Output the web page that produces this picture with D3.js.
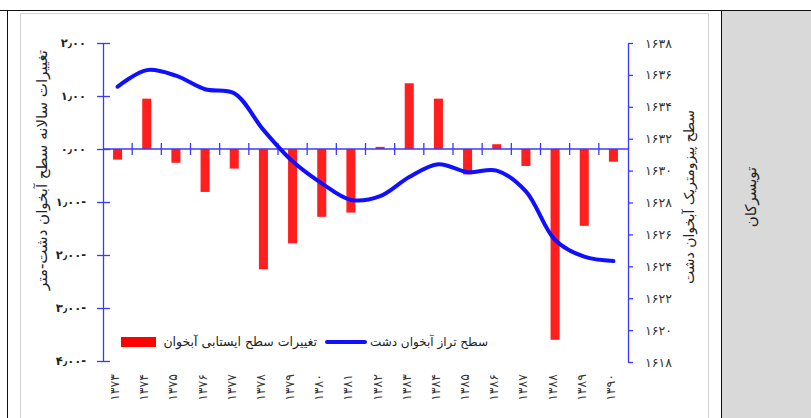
<!DOCTYPE html>
<html>
<head>
<meta charset="utf-8">
<script src="https://cdn.jsdelivr.net/npm/d3@7"></script>
<style>
  body { margin: 0; background: #fff; }
  svg { display: block; font-family: "DejaVu Sans", sans-serif; }
</style>
</head>
<body>
<svg id="chart" width="811" height="418"></svg>
<script>
// data
const years = ['۱۳۷۳', '۱۳۷۴', '۱۳۷۵', '۱۳۷۶', '۱۳۷۷', '۱۳۷۸', '۱۳۷۹', '۱۳۸۰', '۱۳۸۱',
  '۱۳۸۲', '۱۳۸۳', '۱۳۸۴', '۱۳۸۵', '۱۳۸۶', '۱۳۸۷', '۱۳۸۸', '۱۳۸۹', '۱۳۹۰'];
const annualChange = [-0.2, 0.95, -0.26, -0.81, -0.37, -2.27, -1.78, -1.28, -1.2,
  0.04, 1.24, 0.95, -0.48, 0.09, -0.32, -3.6, -1.45, -0.24];
const waterLevel = [1635.26, 1636.3, 1635.95, 1635.1, 1634.85, 1632.55, 1630.58, 1629.2, 1628.16,
  1628.4, 1629.6, 1630.4, 1629.9, 1630.0, 1628.7, 1625.65, 1624.6, 1624.33];
const leftTicks = [2, 1, 0, -1, -2, -3, -4];
const rightTicks = [1638, 1636, 1634, 1632, 1630, 1628, 1626, 1624, 1622, 1620, 1618];

const barName = 'تغییرات سطح ایستابی آبخوان';
const lineName = 'سطح تراز آبخوان دشت';
const leftTitle = 'تغییرات سالانه سطح آبخوان دشت-متر';
const rightTitle = 'سطح پیزومتریک آبخوان دشت';
const regionName = 'تویسرکان';

const fa = s => String(s).replace(/\d/g, d => '۰۱۲۳۴۵۶۷۸۹'[d]).replace('.', '٫');

const svg = d3.select('#chart');
const axisColor = '#3a3aff';

// frame
svg.append('rect').attr('x', 20.5).attr('y', 13.5).attr('width', 688).attr('height', 420)
  .attr('fill', 'none').attr('stroke', '#d4d4d4');
svg.append('rect').attr('x', 721.5).attr('y', 10.5).attr('width', 100).attr('height', 420)
  .attr('fill', '#d9d9d9').attr('stroke', '#111');
svg.append('line').attr('x1', 0).attr('x2', 811).attr('y1', 10.5).attr('y2', 10.5).attr('stroke', '#111');
svg.append('line').attr('x1', 7.5).attr('x2', 7.5).attr('y1', 10).attr('y2', 418).attr('stroke', '#111');

svg.append('text')
  .attr('transform', 'translate(751,197) rotate(-90)')
  .attr('text-anchor', 'middle').attr('dominant-baseline', 'middle')
  .attr('font-size', 15).attr('fill', '#222')
  .text(regionName);

// scales
const left = 103, right = 628;
const xB = d3.scaleBand().domain(years).range([left, right]);
const xBar = d3.scaleBand().domain(years).range([left, right]).paddingInner(0.69).paddingOuter(0.345);
const yL = d3.scaleLinear().domain([-4, 2]).range([361, 43]);
const yR = d3.scaleLinear().domain([1618, 1638]).range([362, 43]);

// bars
svg.append('g').selectAll('rect').data(annualChange).join('rect')
  .attr('x', (d, i) => xBar(years[i]))
  .attr('width', xBar.bandwidth())
  .attr('y', d => yL(Math.max(0, d)))
  .attr('height', d => Math.abs(yL(d) - yL(0)))
  .attr('fill', '#ff1f1f');

// zero line with boundary ticks
const zero = svg.append('g').attr('stroke', axisColor).attr('stroke-width', 1.3);
zero.append('line').attr('x1', left).attr('x2', right).attr('y1', yL(0)).attr('y2', yL(0));
zero.selectAll('.bt').data(years.slice(1)).join('line')
  .attr('x1', d => xB(d)).attr('x2', d => xB(d))
  .attr('y1', yL(0) - 6).attr('y2', yL(0) + 6);

// line
const line = d3.line()
  .x((d, i) => xB(years[i]) + xB.bandwidth() / 2)
  .y(d => yR(d))
  .curve(d3.curveCatmullRom.alpha(0.5));
svg.append('path').datum(waterLevel)
  .attr('d', line).attr('fill', 'none')
  .attr('stroke', '#1010ff').attr('stroke-width', 4).attr('stroke-linecap', 'round');

// left axis
const gL = svg.append('g').attr('transform', `translate(${left},0)`)
  .call(d3.axisLeft(yL).tickValues(leftTicks).tickSize(6).tickSizeOuter(0).tickPadding(11)
    .tickFormat(v => fa(Math.abs(v).toFixed(2)) + (v < 0 ? '-' : '')));
gL.select('.domain').attr('stroke', axisColor).attr('stroke-width', 1.3);
gL.selectAll('.tick line').attr('stroke', axisColor).attr('stroke-width', 1.3).attr('x1', 7).attr('x2', -6);
gL.selectAll('.tick text').attr('font-size', 11.5).attr('font-weight', 'bold').attr('fill', '#222')
  .attr('font-family', '"DejaVu Sans", sans-serif');

// right axis
const gR = svg.append('g').attr('transform', `translate(${right},0)`)
  .call(d3.axisRight(yR).tickValues(rightTicks).tickSize(5).tickSizeOuter(0).tickPadding(12)
    .tickFormat(v => fa(v)));
gR.select('.domain').attr('stroke', axisColor).attr('stroke-width', 1.3);
gR.selectAll('.tick line').attr('stroke', axisColor).attr('stroke-width', 1.3);
gR.selectAll('.tick text').attr('font-size', 12.5).attr('fill', '#333')
  .attr('font-family', '"DejaVu Sans", sans-serif');

// year labels
svg.append('g').selectAll('text').data(years).join('text')
  .attr('transform', d => `translate(${xB(d) + xB.bandwidth() / 2 - 2},374) rotate(-90)`)
  .attr('text-anchor', 'end').attr('dominant-baseline', 'middle')
  .attr('font-size', 12.5).attr('fill', '#333')
  .text(d => d);

// axis titles
svg.append('text')
  .attr('transform', 'translate(42,170) rotate(-90)')
  .attr('text-anchor', 'middle').attr('dominant-baseline', 'middle')
  .attr('font-size', 15).attr('fill', '#222')
  .text(leftTitle);
svg.append('text')
  .attr('transform', 'translate(690,197) rotate(-90)')
  .attr('text-anchor', 'middle').attr('dominant-baseline', 'middle')
  .attr('font-size', 14).attr('fill', '#222')
  .text(rightTitle);

// legend
const lg = svg.append('g').attr('fill', '#222');
lg.append('rect').attr('x', 121).attr('y', 337).attr('width', 35).attr('height', 10).attr('fill', '#ff0000');
lg.append('text').attr('x', 317).attr('y', 342).attr('text-anchor', 'end').attr('font-size', 12.5)
  .attr('dominant-baseline', 'middle').text(barName);
lg.append('line').attr('x1', 327).attr('x2', 365).attr('y1', 342).attr('y2', 342)
  .attr('stroke', '#1010ff').attr('stroke-width', 4).attr('stroke-linecap', 'round');
lg.append('text').attr('x', 488).attr('y', 342).attr('text-anchor', 'end').attr('font-size', 12)
  .attr('dominant-baseline', 'middle').text(lineName);
</script>
</body>
</html>
